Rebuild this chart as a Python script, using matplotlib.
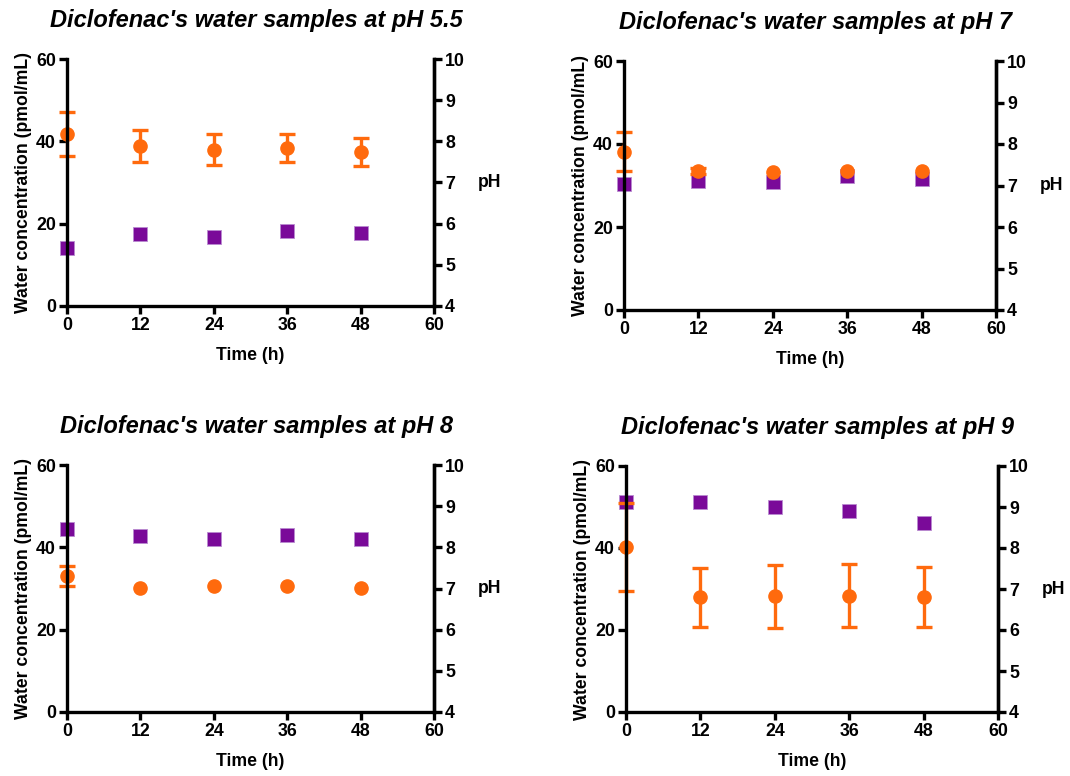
import matplotlib
matplotlib.use("Agg")
import matplotlib.pyplot as plt

plt.rcParams["font.family"] = ["Liberation Sans", "DejaVu Sans"]
plt.rcParams["font.weight"] = "bold"

time_h = [0, 12, 24, 36, 48]

titles = ["Diclofenac's water samples at pH 5.5",
          "Diclofenac's water samples at pH 7",
          "Diclofenac's water samples at pH 8",
          "Diclofenac's water samples at pH 9"]

# water concentration (pmol/mL), mean and error
conc_55 = [41.8, 38.8, 38.0, 38.4, 37.4]
err_55 = [5.3, 3.9, 3.7, 3.4, 3.4]
conc_7 = [38.1, 33.5, 33.3, 33.6, 33.5]
err_7 = [4.7, 0.7, 0.0, 0.0, 0.0]
conc_8 = [33.0, 30.2, 30.5, 30.5, 30.2]
err_8 = [2.4, 0.0, 0.0, 0.0, 0.0]
conc_9 = [40.3, 28.0, 28.2, 28.4, 28.0]
err_9 = [10.7, 7.2, 7.7, 7.7, 7.3]

# measured pH of the samples
ph_55 = [5.42, 5.74, 5.68, 5.82, 5.78]
ph_7 = [7.03, 7.12, 7.08, 7.23, 7.15]
ph_8 = [8.44, 8.28, 8.20, 8.30, 8.20]
ph_9 = [9.13, 9.13, 8.99, 8.90, 8.60]

concs = [conc_55, conc_7, conc_8, conc_9]
errs = [err_55, err_7, err_8, err_9]
phs = [ph_55, ph_7, ph_8, ph_9]

ORANGE = "#FF6A0D"
PURPLE = "#7A0A99"

W, H = 1070, 776
fig = plt.figure(figsize=(W / 100, H / 100), dpi=100)

# axes boxes in pixels: left, top, right, bottom
boxes = [(67, 59, 434, 306), (624, 61, 996, 310),
         (67, 465, 434, 712), (626, 466, 998, 712)]

for i, (l, t, r, b) in enumerate(boxes):
    ax = fig.add_axes([l / W, 1 - b / H, (r - l) / W, (b - t) / H])
    ax2 = ax.twinx()
    ax.set_zorder(ax2.get_zorder() + 1)
    ax.patch.set_visible(False)

    ax2.plot(time_h, phs[i], "s", color=PURPLE, ms=9.5, mec="#B98AD0",
             mew=0.6, clip_on=False)

    # error bars only where there is a spread to show
    ex = [x for x, e in zip(time_h, errs[i]) if e > 0]
    ey = [y for y, e in zip(concs[i], errs[i]) if e > 0]
    ee = [e for e in errs[i] if e > 0]
    ax.errorbar(ex, ey, yerr=ee, fmt="none", ecolor=ORANGE,
                elinewidth=2.4, capsize=6, capthick=2.4, clip_on=False)
    ax.plot(time_h, concs[i], "o", color=ORANGE, ms=9.5, clip_on=False)

    ax.set_xlim(0, 60)
    ax.set_ylim(0, 60)
    ax2.set_ylim(4, 10)
    ax.set_xticks(range(0, 61, 12))
    ax.set_yticks(range(0, 61, 20))
    ax2.set_yticks(range(4, 11))

    for a in (ax, ax2):
        a.spines["top"].set_visible(False)
        for s in a.spines.values():
            s.set_linewidth(2.4)
        a.tick_params(width=2.4, length=6, labelsize=12.8, pad=2)
    ax2.spines["left"].set_visible(False)
    ax2.spines["bottom"].set_visible(False)

    ax.set_xlabel("Time (h)", fontsize=12.7, fontweight="bold", labelpad=9)
    ax.set_ylabel("Water concentration (pmol/mL)", fontsize=12.7,
                  fontweight="bold", labelpad=3)
    ax2.set_ylabel("pH", fontsize=12.7, fontweight="bold", rotation=0,
                   labelpad=18, va="center")
    ax.set_title(titles[i], fontsize=17, fontweight="bold",
                 fontstyle="italic", pad=23, x=0.515)

fig.savefig("out.png", dpi=100)
